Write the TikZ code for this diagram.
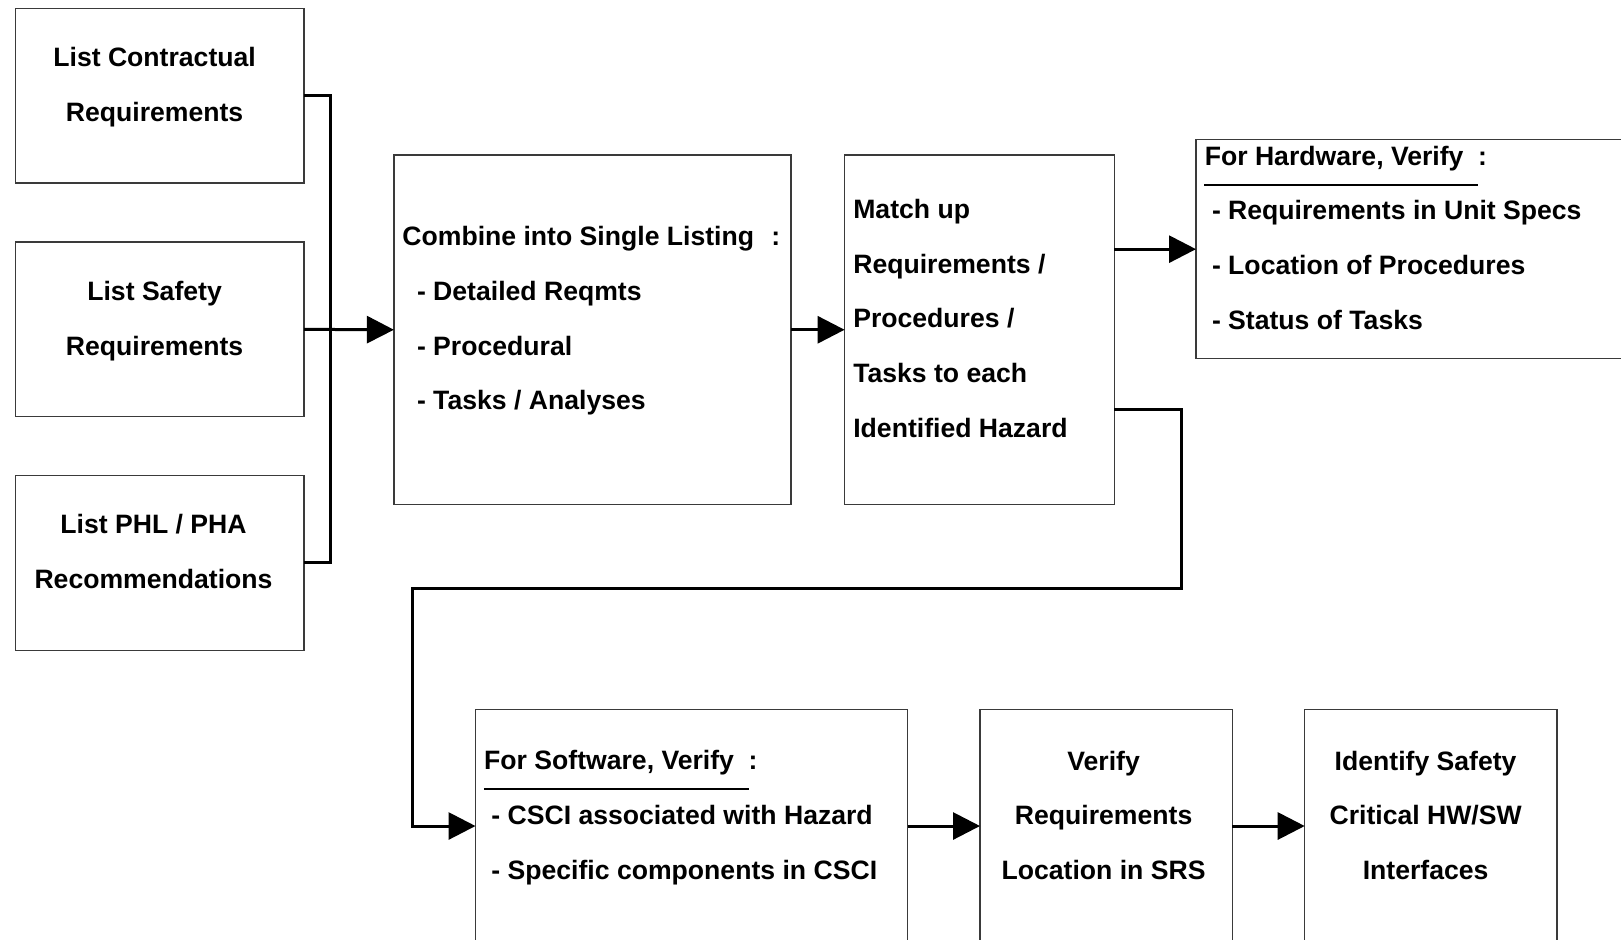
\documentclass[tikz,border=0pt]{standalone}
\usepackage{fontspec}
\setmainfont{Liberation Sans}
\usetikzlibrary{arrows.meta, positioning}
\definecolor{boxline}{HTML}{3A3A3A}

\tikzset{
  box/.style={draw=boxline, line width=0.6pt, anchor=north west, inner sep=0pt, outer sep=0pt},
  txt/.style={inner sep=0pt, font=\bfseries\fontsize{13.3}{27.3}\selectfont},
  link/.style={line width=1.5pt},
  flow/.style={link, -{Triangle[length=13.5pt, width=13.5pt]}}
}

\begin{document}
\begin{tikzpicture}[x=0.5pt, y=-0.5pt]
    \clip (0,0) rectangle (1621,939);
    % input lists
    \node[box, minimum width=144.25pt, minimum height=87.35pt] (contract) at (15.5,8.3) {};
    \node[box, minimum width=144.25pt, minimum height=87.35pt] (safety) at (15.5,242) {};
    \node[box, minimum width=144.25pt, minimum height=87.35pt] (phl) at (15.5,475.5) {};
    \node[txt, align=center] (contracttxt) at (154.6,87.3) {List Contractual\\Requirements};
    \node[txt, align=center] (safetytxt) at (154.6,320.9) {List Safety\\Requirements};
    \node[txt, align=center] (phltxt) at (153.5,551.5) {List PHL / PHA\\Recommendations};
    % combine and match
    \node[box, minimum width=198.5pt, minimum height=174.75pt] (combine) at (393.9,155) {};
    \node[box, minimum width=134.9pt, minimum height=174.75pt, right=26.85pt of combine.north east, anchor=north west] (match) {};
    \node[txt, align=left, anchor=west] (combinetxt) at (402,320.9)
      {Combine into Single Listing\hspace{0.65em}:\\\hspace*{7.3pt}- Detailed Reqmts\\\hspace*{7.3pt}- Procedural\\\hspace*{7.3pt}- Tasks / Analyses};
    \node[txt, align=left, anchor=west] (matchtxt) at (852.9,318.4)
      {Match up\\Requirements /\\Procedures /\\Tasks to each\\Identified Hazard};
    % hardware
    \node[box, minimum width=222pt, minimum height=109.55pt] (hardw) at (1196,139.6) {};
    \node[txt, align=left, anchor=west] (hardwtxt) at (1204.4,237.75)
      {For Hardware, Verify\hspace{0.55em}:\\\hspace*{3.6pt}- Requirements in Unit Specs\\\hspace*{3.6pt}- Location of Procedures\\\hspace*{3.6pt}- Status of Tasks};
    \draw[line width=1pt] (1204.4,185) -- (1478.3,185);
    % software row
    \node[box, minimum width=216.1pt, minimum height=116.8pt] (softw) at (475.5,709.2) {};
    \node[box, minimum width=126.15pt, minimum height=116.8pt, right=36.15pt of softw.north east, anchor=north west] (srs) {};
    \node[box, minimum width=126.1pt, minimum height=116.8pt, right=36.2pt of srs.north east, anchor=north west] (crit) {};
    \node[txt, align=left, anchor=west] (softwtxt) at (483.8,817.6)
      {For Software, Verify\hspace{0.55em}:\\\hspace*{3.6pt}- CSCI associated with Hazard\\\hspace*{3.6pt}- Specific components in CSCI};
    \draw[line width=1pt] (483.8,788.8) -- (748.5,788.8);
    \node[txt, align=center] (srstxt) at (1103.6,815.1) {Verify\\Requirements\\Location in SRS};
    \node[txt, align=center] (crittxt) at (1425.6,815.1) {Identify Safety\\Critical HW/SW\\Interfaces};

    % connectors
    \coordinate (join) at (330.8,329.8);
    \draw[link] (contract.east) -| (join) |- (phl.east);
    \draw[flow] (safety.east) -- (combine.west);
    \draw[flow] (combine.east) -- (match.west);
    \draw[flow] (match.east |- hardw.west) -- (hardw.west);
    \coordinate (bendA) at (1181.6,588.2);
    \coordinate (bendB) at (412.5,588.2);
    \draw[flow] ([yshift=-39.8pt]match.east) -| (bendA) -- (bendB) |- (softw.west);
    \draw[flow] (softw.east) -- (srs.west);
    \draw[flow] (srs.east) -- (crit.west);
\end{tikzpicture}
\end{document}
